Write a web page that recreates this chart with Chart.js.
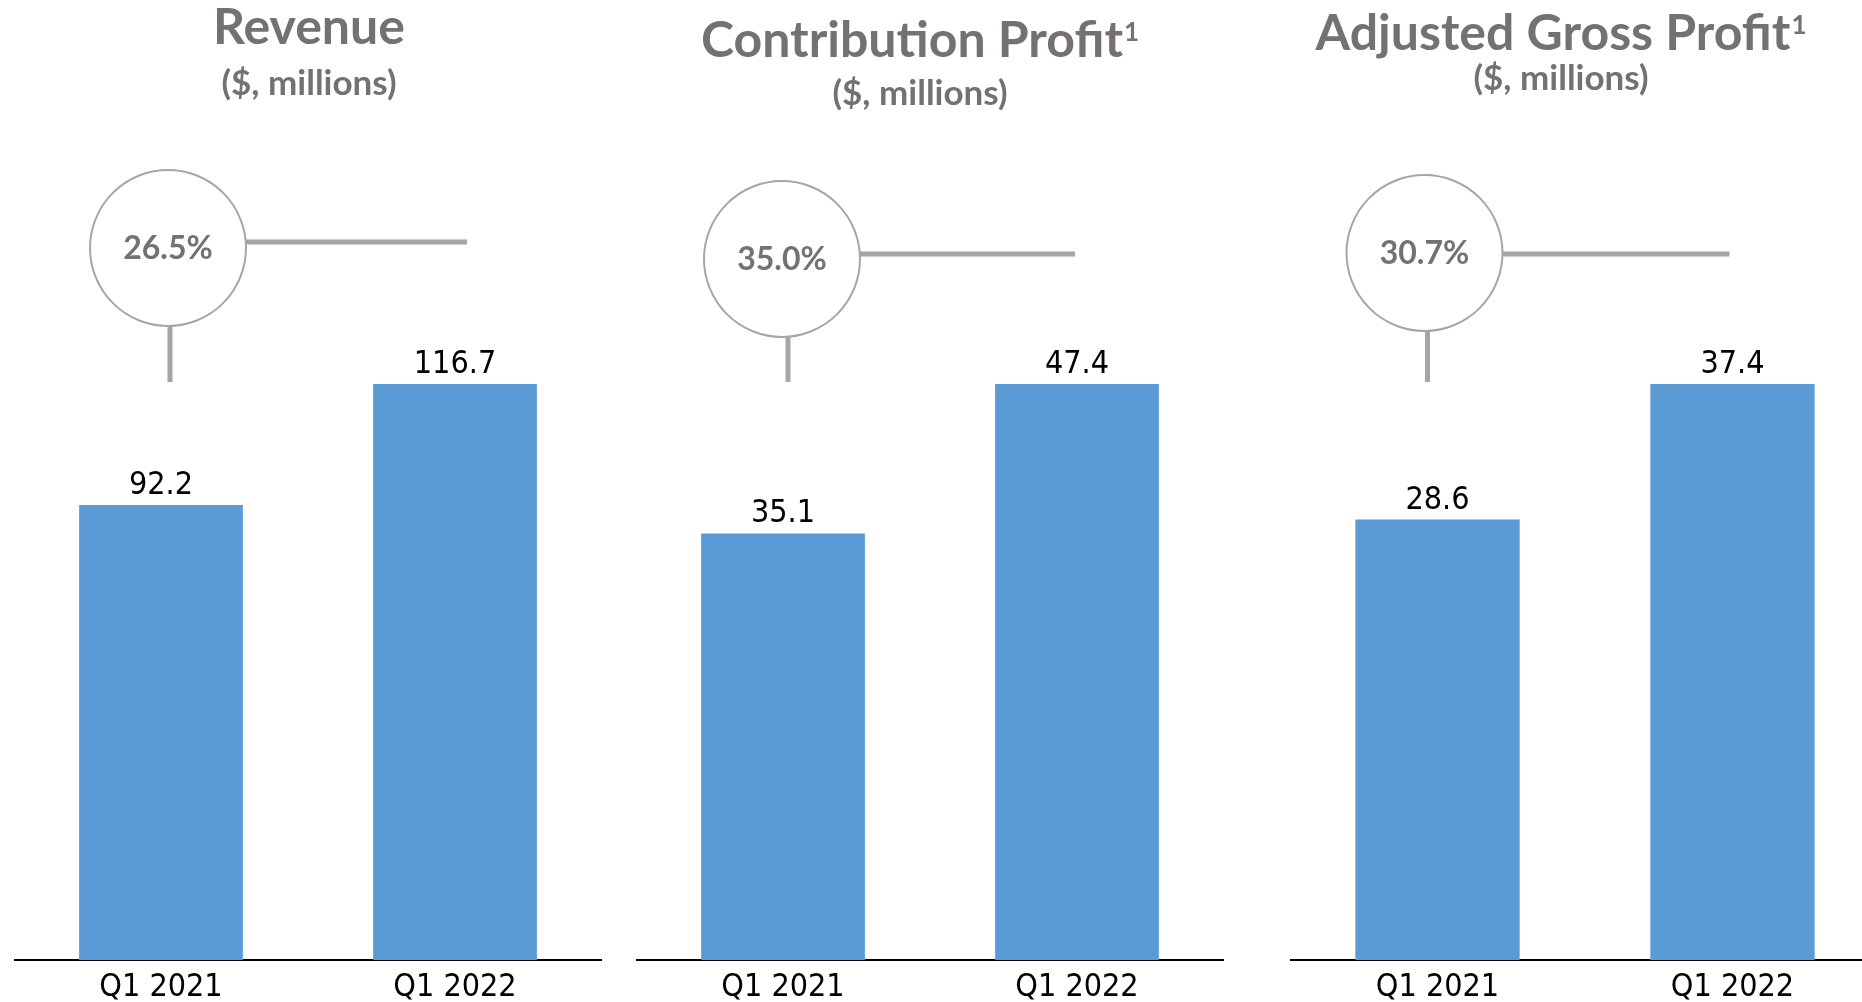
<!DOCTYPE html>
<html>
<head>
<meta charset="utf-8">
<title>Q1 2022 results</title>
<script src="https://cdn.jsdelivr.net/npm/chart.js@4.4.1/dist/chart.umd.min.js"></script>
<style>
  html, body { margin: 0; padding: 0; background: #fff; width: 1862px; height: 1002px; overflow: hidden; }
  canvas { position: absolute; top: 0; }
</style>
</head>
<body>
<canvas id="revenueChart" width="588" height="1002" style="left:14px"></canvas>
<canvas id="contribChart" width="588" height="1002" style="left:636px"></canvas>
<canvas id="grossChart" width="590" height="1002" style="left:1290px"></canvas>
<script>
// DATA
const quarters = ["Q1 2021", "Q1 2022"];
const revenue = [92.2, 116.7];
const contributionProfit = [35.1, 47.4];
const adjustedGrossProfit = [28.6, 37.4];
const growthLabels = ["26.5%", "35.0%", "30.7%"];
const titles = ["Revenue", "Contribution Profit", "Adjusted Gross Profit"];
const footnotes = ["", "1", "1"];
const unitLabel = "($, millions)";

// STYLE
const barColor = "#5B9BD5";
const greyText = "#767171";
const lineGrey = "#A6A6A6";
const narrowFont = "'Liberation Sans Narrow', 'DejaVu Sans Condensed', 'Liberation Sans', sans-serif";

// titles, growth bubble etc. drawn on top of the bars
const panelDecor = {
  id: "panelDecor",
  afterDatasetsDraw(chart, args, opts) {
    const ctx = chart.ctx;
    const xs = chart.scales.x, ys = chart.scales.y;
    const meta = chart.getDatasetMeta(0);
    const values = chart.data.datasets[0].data;
    ctx.save();

    // value labels
    ctx.font = "32px " + narrowFont;
    ctx.fillStyle = "#000";
    ctx.textAlign = "center";
    ctx.textBaseline = "alphabetic";
    meta.data.forEach((bar, i) => {
      ctx.fillText(values[i].toFixed(1), bar.x, bar.y - 11);
    });

    // title + superscript
    ctx.fillStyle = greyText;
    ctx.font = "bold 50px Lato, sans-serif";
    const mainW = ctx.measureText(opts.title).width;
    ctx.font = "bold 26px Lato, sans-serif";
    const supW = opts.note ? ctx.measureText(opts.note).width + 1 : 0;
    const left = opts.titleX - (mainW + supW) / 2;
    ctx.textAlign = "left";
    ctx.font = "bold 50px Lato, sans-serif";
    ctx.fillText(opts.title, left, opts.titleY);
    if (opts.note) {
      ctx.font = "bold 26px Lato, sans-serif";
      ctx.fillText(opts.note, left + mainW + 1, opts.titleY - 16);
    }
    ctx.textAlign = "center";
    ctx.font = "bold 35px Lato, sans-serif";
    ctx.fillText(unitLabel, opts.titleX, opts.subY);

    // growth bubble with connectors
    const x0 = xs.getPixelForValue(0), x1 = xs.getPixelForValue(1);
    const top = ys.getPixelForValue(ys.max);
    const r = 78;
    const cx = x0 + opts.circleDx, cy = opts.circleY;
    ctx.strokeStyle = lineGrey;
    ctx.lineWidth = 5;
    ctx.beginPath();
    ctx.moveTo(cx, opts.lineY);
    ctx.lineTo(x1 + opts.lineEndDx, opts.lineY);
    ctx.stroke();
    ctx.beginPath();
    ctx.moveTo(cx + opts.stemDx, cy);
    ctx.lineTo(cx + opts.stemDx, top - 2);
    ctx.stroke();
    ctx.lineWidth = 2;
    ctx.fillStyle = "#fff";
    ctx.beginPath();
    ctx.arc(cx, cy, r, 0, Math.PI * 2);
    ctx.fill();
    ctx.stroke();
    ctx.fillStyle = greyText;
    ctx.font = "bold 32px Lato, sans-serif";
    ctx.fillText(opts.growth, cx, cy + 11);

    ctx.restore();
  }
};

function makePanel(canvasId, values, decor) {
  return new Chart(document.getElementById(canvasId), {
    type: "bar",
    data: {
      labels: quarters,
      datasets: [{
        data: values,
        backgroundColor: barColor,
        barPercentage: 0.557,
        categoryPercentage: 1
      }]
    },
    options: {
      responsive: false,
      animation: false,
      layout: { padding: { top: 384, left: 0, right: 0, bottom: 0 } },
      plugins: {
        legend: { display: false },
        tooltip: { enabled: false },
        panelDecor: decor
      },
      scales: {
        x: {
          grid: { display: false, drawTicks: false },
          border: { display: true, color: "#000", width: 2 },
          ticks: { color: "#000", padding: 8, font: { family: narrowFont, size: 32 } },
          afterFit: s => { s.height = 42; }
        },
        y: { display: false, min: 0, max: Math.max(...values) }
      }
    },
    plugins: [panelDecor]
  });
}

makePanel("revenueChart", revenue, {
  title: titles[0], note: footnotes[0], growth: growthLabels[0],
  titleX: 295, titleY: 44, subY: 95,
  circleDx: 7, circleY: 248, lineY: 242, lineEndDx: 12, stemDx: 2
});
makePanel("contribChart", contributionProfit, {
  title: titles[1], note: footnotes[1], growth: growthLabels[1],
  titleX: 284, titleY: 57, subY: 105,
  circleDx: -1, circleY: 259, lineY: 254, lineEndDx: -2, stemDx: 6
});
makePanel("grossChart", adjustedGrossProfit, {
  title: titles[2], note: footnotes[2], growth: growthLabels[2],
  titleX: 271, titleY: 50, subY: 90,
  circleDx: -13, circleY: 253, lineY: 254, lineEndDx: -3, stemDx: 3
});
</script>
</body>
</html>
